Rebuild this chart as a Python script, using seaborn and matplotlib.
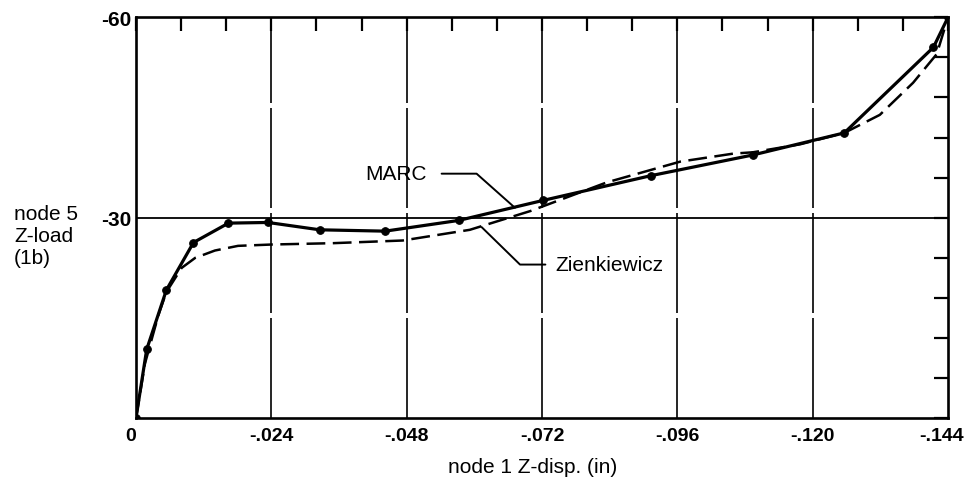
import matplotlib
matplotlib.use("Agg")
import matplotlib.pyplot as plt
import matplotlib.transforms as mtransforms
import pandas as pd
import seaborn as sns
from matplotlib.ticker import FixedLocator, MultipleLocator

# Node 1 Z-displacement (in) against node 5 Z-load (lb)
marc_disp = [0.0, -0.0019, -0.0054, -0.0102, -0.0164, -0.0234, -0.0326, -0.0442,
             -0.0572, -0.0722, -0.0913, -0.1094, -0.1256, -0.1414, -0.1440]
marc_load = [0.0, -10.3, -19.2, -26.3, -29.2, -29.3, -28.2, -28.0,
             -29.6, -32.6, -36.3, -39.4, -42.7, -55.5, -60.0]

zienk_disp = [0.0, -0.0016, -0.0040, -0.0054, -0.0081, -0.0105, -0.0140, -0.0181,
              -0.0241, -0.0349, -0.0473, -0.0592, -0.0699, -0.0835, -0.0965, -0.1059,
              -0.1094, -0.1178, -0.1256, -0.1319, -0.1378, -0.1420, -0.1440]
zienk_load = [0.0, -8.2, -15.5, -18.9, -22.5, -24.0, -25.1, -25.8,
              -26.0, -26.2, -26.6, -28.2, -31.0, -35.3, -38.4, -39.6,
              -39.8, -41.0, -42.7, -45.4, -50.2, -54.5, -60.0]

x_ticks = [0.0, -0.024, -0.048, -0.072, -0.096, -0.120, -0.144]
x_tick_labels = ["0", "-.024", "-.048", "-.072", "-.096", "-.120", "-.144"]
y_ticks = [0, -30, -60]
y_tick_labels = ["", "-30", "-60"]

sns.set_theme(style="white")
plt.rcParams["font.family"] = ["Liberation Sans", "DejaVu Sans"]
plt.rcParams["text.color"] = "black"
plt.rcParams["axes.labelcolor"] = "black"

marc = pd.DataFrame({"disp": marc_disp, "load": marc_load})
zienk = pd.DataFrame({"disp": zienk_disp, "load": zienk_load})

fig = plt.figure(figsize=(9.67, 4.85), dpi=100)
ax = fig.add_axes([0.1406, 0.1355, 0.8398, 0.8268])

# reference grid: dashed verticals at the labelled displacements, one line at -30 lb
for xv in x_ticks[1:-1]:
    ax.axvline(xv, color="black", lw=1.2, linestyle=(0, (60, 3)), zorder=1)
ax.axhline(-30, color="black", lw=1.3, zorder=1)

sns.lineplot(data=zienk, x="disp", y="load", ax=ax, color="black", lw=1.8,
             linestyle=(0, (7.5, 3)), sort=False, estimator=None, legend=False,
             zorder=3)
sns.lineplot(data=marc, x="disp", y="load", ax=ax, color="black", lw=2.3,
             marker="o", markersize=5.5, markeredgecolor="black",
             markerfacecolor="black", sort=False, estimator=None, legend=False,
             zorder=4)

# curve labels with leader lines
ax.text(-0.0515, -36.6, "MARC", ha="right", va="center", fontsize=15)
ax.plot([-0.0542, -0.0604, -0.0672], [-36.6, -36.6, -31.5],
        color="black", lw=1.4, zorder=5)
ax.text(-0.0743, -23.0, "Zienkiewicz", ha="left", va="center", fontsize=15)
ax.plot([-0.0726, -0.0681, -0.0613], [-23.0, -23.0, -28.6],
        color="black", lw=1.4, zorder=5)

ax.set_xlim(0, -0.144)
ax.set_ylim(0, -60)

ax.xaxis.set_major_locator(FixedLocator(x_ticks))
ax.xaxis.set_minor_locator(MultipleLocator(0.008))
ax.set_xticklabels(x_tick_labels, fontsize=14, fontweight="bold")
ax.yaxis.set_major_locator(FixedLocator(y_ticks))
ax.yaxis.set_minor_locator(MultipleLocator(6))
ax.set_yticklabels(y_tick_labels, fontsize=15, fontweight="bold")

ax.tick_params(which="both", direction="in", top=True, right=True,
               length=10, width=1.6, color="black", labelcolor="black")
ax.tick_params(axis="x", pad=6)
ax.tick_params(axis="y", pad=3)

# origin label sits left of the corner, last label pulled in from the edge
xlabels = ax.get_xticklabels()
xlabels[0].set_ha("right")
xlabels[-1].set_transform(xlabels[-1].get_transform() +
                          mtransforms.ScaledTranslation(-6 / 100, 0, fig.dpi_scale_trans))

for sp in ax.spines.values():
    sp.set_linewidth(1.9)
    sp.set_color("black")

ax.set_xlabel("node 1 Z-disp. (in)", fontsize=15, va="center")
ax.xaxis.set_label_coords(0.489, -0.12)
ax.set_ylabel("node 5\nZ-load\n(1b)", fontsize=15, rotation=0, ha="left",
              va="center", linespacing=1.2)
ax.yaxis.set_label_coords(-0.150, 0.456)

fig.savefig("out.png", dpi=100, facecolor="white")
